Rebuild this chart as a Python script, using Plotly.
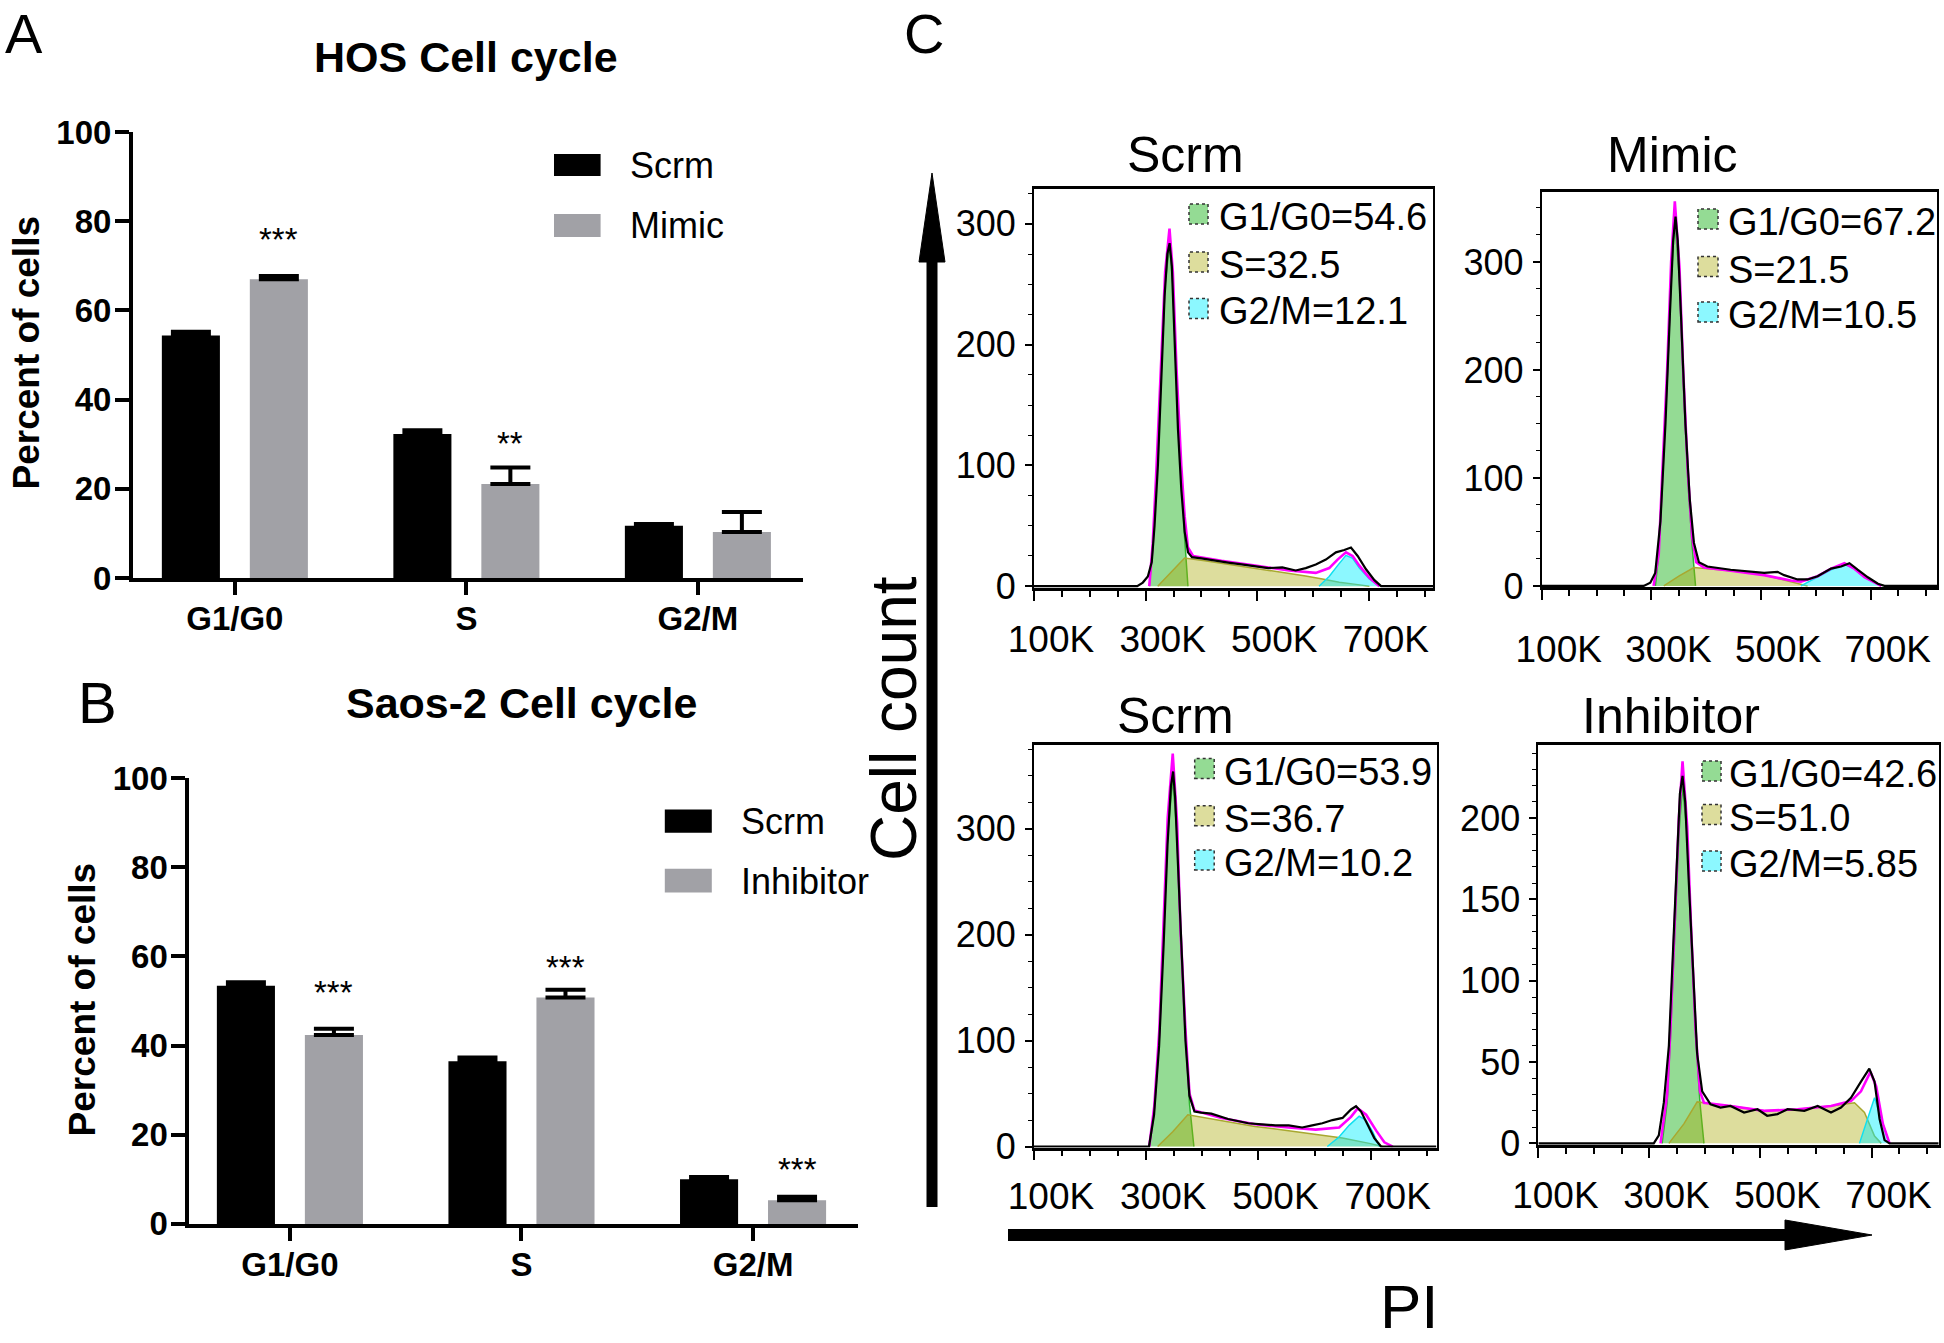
import plotly.graph_objects as go

W, H = 1944, 1343
FONT = "Liberation Sans, Arial, sans-serif"


def px(x):
    return x / W


def py(y):
    return 1 - y / H


# ---------------- data: bar charts ----------------
cats = ["G1/G0", "S", "G2/M"]

hos_scrm = [54.4, 32.3, 11.7]
hos_scrm_err = [0.8, 0.8, 0.4]
hos_mimic = [67.0, 21.1, 10.3]
hos_mimic_err = [0.7, 3.7, 4.5]
hos_stars = ["***", "**", ""]
hos_star_y = [77.4, 31.7, 0]

saos_scrm = [53.4, 36.5, 10.0]
saos_scrm_err = [0.8, 0.8, 0.5]
saos_inh = [42.4, 50.8, 5.3]
saos_inh_err = [1.4, 1.7, 0.8]
saos_stars = ["***", "***", "***"]
saos_star_y = [53.5, 59.1, 13.8]

# ---------------- data: flow histograms (PI, in K) ----------------
c1_data_x = [100, 285, 295, 304, 311, 316, 322, 328, 334, 339, 343, 347, 352, 358, 364, 370, 376, 383, 400, 424,
             448, 472, 496, 520, 545, 569, 587, 605, 623, 641, 656, 668, 680, 695, 710, 722, 815]
c1_data_y = [0, 0, 3, 8, 20, 50, 100, 170, 240, 275, 284, 265, 210, 130, 80, 45, 28, 24, 23, 21,
             19.5, 18, 16.5, 15, 15.5, 13, 15, 18, 22, 28, 30, 32, 25, 14, 5, 0, 0]
c1_fit_x = [306.6, 312.7, 318.7, 327.7, 335, 342.8, 348.8, 355.4, 363.9, 369.9, 375.9, 385, 436, 496, 557, 605,
            629, 644, 659, 671, 683, 701, 719]
c1_fit_y = [0, 35, 90, 180, 260, 296, 260, 180, 100, 58, 32, 25, 21, 17, 13, 11, 15, 22, 28, 25, 17, 7, 0]
c1_g1_x = [306.6, 312.7, 318.7, 327.7, 335, 342.8, 348.8, 355.4, 363.9, 369.9, 375.9]
c1_g1_y = [0, 31, 85, 170, 250, 283, 250, 170, 87, 40, 0]
c1_s_x = [321.7, 345.8, 369.9, 406, 466, 526.5, 586.7, 616.9, 647, 677, 701]
c1_s_y = [0, 12, 23.3, 21, 17, 13, 8.5, 6, 3.3, 1.5, 0]
c1_g2_x = [610.8, 628.9, 644, 659, 671, 683, 701, 719]
c1_g2_y = [0, 8, 17, 25.5, 23, 15, 6, 0]
c1_labels = ["G1/G0=54.6", "S=32.5", "G2/M=12.1"]

c2_data_x = [100, 286, 298, 307, 316.5, 325.6, 333.6, 339.7, 344, 348, 354, 362, 370, 377.5, 386.6, 402, 444.5,
             481, 505.5, 530, 542, 566.5, 584.8, 603, 627.5, 646, 661, 676, 694.6, 713, 725, 821]
c2_data_y = [0, 0, 3, 12, 60, 150, 250, 320, 342, 320, 250, 150, 80, 40, 22, 18, 15,
             13, 12, 13, 10, 6, 6, 9, 16, 18, 21, 15, 8, 2, 0, 0]
c2_fit_x = [304, 313.4, 319.5, 328.7, 336, 342.7, 351.2, 357.9, 366.5, 374.4, 381.7, 395.8, 444.5, 505.5, 554,
            572.6, 603, 627.5, 651.9, 670, 688.5, 719]
c2_fit_y = [0, 30, 100, 200, 300, 356, 295, 200, 105, 45, 22, 17, 14, 10, 5, 4, 9, 16, 21, 16, 8, 0]
c2_g1_x = [307.3, 313.4, 319.5, 328.7, 336, 342.7, 351.2, 357.9, 366.5, 374.4, 380.5]
c2_g1_y = [0, 30, 97, 190, 283, 339, 283, 190, 97, 36, 0]
c2_s_x = [322.6, 350, 377.5, 444.5, 505.5, 554, 584.8]
c2_s_y = [0, 9, 17, 14, 10, 4, 0]
c2_g2_x = [572.6, 603, 627.5, 651.9, 670, 688.5, 719]
c2_g2_y = [0, 8, 15, 20, 16, 8, 0]
c2_labels = ["G1/G0=67.2", "S=21.5", "G2/M=10.5"]

c3_data_x = [100, 305, 314, 323, 331, 338, 344, 348, 351.5, 356, 362, 370, 377, 386, 398, 416, 446, 482, 506, 530,
             554, 578, 596, 614, 632, 650, 665, 674, 683, 695, 706.6, 718.6, 817]
c3_data_y = [0, 0, 30, 95, 190, 285, 340, 354, 330, 270, 190, 100, 48, 33, 32, 31, 26, 22, 21, 20,
             20, 18, 20, 22, 25, 27, 35, 38, 33, 20, 8, 0, 0]
c3_fit_x = [305.4, 314.4, 323.4, 331.1, 338.3, 347.3, 355.1, 361.1, 370, 377.2, 386, 434, 494, 554, 602, 644,
            665, 677, 692, 710, 724.5, 739.5]
c3_fit_y = [0, 38, 110, 210, 310, 371, 305, 205, 110, 50, 34, 27, 21, 18, 16, 18, 28, 36, 30, 15, 4, 0]
c3_g1_x = [305.4, 314.4, 323.4, 331.1, 338.3, 347.3, 355.1, 361.1, 370, 377.2, 385]
c3_g1_y = [0, 35, 103, 198, 294, 347, 294, 198, 103, 40, 0]
c3_s_x = [320.4, 347.3, 374.2, 434, 494, 553.9, 613.8, 649.7, 697.6, 721.6]
c3_s_y = [0, 14, 30, 24.4, 19, 15, 11, 8, 3, 0]
c3_g2_x = [622.8, 643.7, 661.7, 679.6, 691.6, 703.6, 715.6]
c3_g2_y = [0, 9, 20, 28.6, 25, 14, 0]
c3_labels = ["G1/G0=53.9", "S=36.7", "G2/M=10.2"]

c4_data_x = [100, 307.8, 316.9, 325.9, 335, 342.8, 350, 354.8, 359.6, 364.4, 371, 379, 386, 395, 410, 428, 446,
             470.5, 494.6, 512, 530.7, 548.8, 579, 603, 627, 645, 663, 681, 696, 705.4, 714.5, 723.5, 732.5, 821]
c4_data_y = [0, 0, 5, 25, 60, 120, 180, 215, 226, 210, 160, 100, 55, 32, 24, 22, 23,
             19, 21, 17, 18, 21, 20, 23, 19, 22, 28, 38, 46, 38, 15, 2, 0, 0]
c4_fit_x = [320, 331.9, 338, 345.8, 353, 359.6, 368, 375.3, 383.1, 391, 398.2, 446.4, 506.6, 566.9, 627, 663,
            681, 698, 708.4, 720.5, 732.5]
c4_fit_y = [0, 30, 72, 135, 200, 235, 195, 130, 70, 32, 25, 23, 20, 21, 23, 26, 32, 44, 35, 12, 0]
c4_g1_x = [322.9, 331.9, 338, 345.8, 353, 359.6, 368, 375.3, 383.1, 391, 398.2]
c4_g1_y = [0, 25, 66, 128, 190, 220, 190, 128, 66, 25, 0]
c4_s_x = [335, 362, 386, 446.4, 506.6, 566.9, 627, 669.3, 687.3, 705.4, 717.5]
c4_s_y = [0, 12, 25.5, 23, 20, 21, 23, 25, 19, 4.5, 0]
c4_g2_x = [678.3, 690.4, 705.4, 717.5, 732.5]
c4_g2_y = [0, 12, 28, 15, 0]
c4_labels = ["G1/G0=42.6", "S=51.0", "G2/M=5.85"]

pi_ticks = [100, 300, 500, 700]
pi_ticktext = ["100K", "300K", "500K", "700K"]

# ---------------- figure ----------------
fig = go.Figure()
GRAY = "#a1a1a6"
GREEN_F = "rgba(0,170,0,0.42)"
YELLOW_F = "rgba(170,170,10,0.40)"
CYAN_F = "rgba(0,240,255,0.45)"

err_common = dict(type="data", symmetric=False, color="black", thickness=4, width=20)


def add_bars(xa, ya, v1, e1, v2, e2, n2):
    fig.add_trace(go.Bar(x=cats, y=v1, name="Scrm", marker=dict(color="black", line=dict(width=0)),
                         error_y=dict(array=e1, arrayminus=[0] * len(e1), **err_common),
                         xaxis=xa, yaxis=ya, showlegend=False))
    fig.add_trace(go.Bar(x=cats, y=v2, name=n2, marker=dict(color=GRAY, line=dict(width=0)),
                         error_y=dict(array=e2, arrayminus=[0] * len(e2), **err_common),
                         xaxis=xa, yaxis=ya, showlegend=False))


add_bars("x", "y", hos_scrm, hos_scrm_err, hos_mimic, hos_mimic_err, "Mimic")
add_bars("x2", "y2", saos_scrm, saos_scrm_err, saos_inh, saos_inh_err, "Inhibitor")

panels = [
    (c1_data_x, c1_data_y, c1_fit_x, c1_fit_y, c1_g1_x, c1_g1_y, c1_s_x, c1_s_y, c1_g2_x, c1_g2_y),
    (c2_data_x, c2_data_y, c2_fit_x, c2_fit_y, c2_g1_x, c2_g1_y, c2_s_x, c2_s_y, c2_g2_x, c2_g2_y),
    (c3_data_x, c3_data_y, c3_fit_x, c3_fit_y, c3_g1_x, c3_g1_y, c3_s_x, c3_s_y, c3_g2_x, c3_g2_y),
    (c4_data_x, c4_data_y, c4_fit_x, c4_fit_y, c4_g1_x, c4_g1_y, c4_s_x, c4_s_y, c4_g2_x, c4_g2_y),
]
for i, (dx, dy, fx, fy, g1x, g1y, sx, sy, g2x, g2y) in enumerate(panels):
    xa, ya = "x%d" % (i + 3), "y%d" % (i + 3)
    fig.add_trace(go.Scatter(x=g1x, y=g1y, mode="lines", fill="tozeroy", fillcolor=GREEN_F,
                             line=dict(color="#2fb52f", width=1.5), xaxis=xa, yaxis=ya, showlegend=False))
    fig.add_trace(go.Scatter(x=sx, y=sy, mode="lines", fill="tozeroy", fillcolor=YELLOW_F,
                             line=dict(color="#a8a830", width=1.5), xaxis=xa, yaxis=ya, showlegend=False))
    fig.add_trace(go.Scatter(x=g2x, y=g2y, mode="lines", fill="tozeroy", fillcolor=CYAN_F,
                             line=dict(color="#10e0f0", width=1.5), xaxis=xa, yaxis=ya, showlegend=False))
    fig.add_trace(go.Scatter(x=fx, y=fy, mode="lines", line=dict(color="#ff00ff", width=2.6),
                             xaxis=xa, yaxis=ya, showlegend=False))
    fig.add_trace(go.Scatter(x=dx, y=dy, mode="lines", line=dict(color="black", width=2.2),
                             xaxis=xa, yaxis=ya, showlegend=False))

# ---------------- axes ----------------
bar_x = dict(type="category", showline=True, linewidth=4, linecolor="black", ticks="outside", ticklen=13,
             tickwidth=4, tickcolor="black", showgrid=False, zeroline=False, automargin=False,
             tickfont=dict(family=FONT, size=33, color="black", weight="bold"), ticklabelstandoff=-5)
bar_y = dict(range=[0, 100], tickvals=[0, 20, 40, 60, 80, 100], showline=True, linewidth=4, linecolor="black",
             ticks="outside", ticklen=14, tickwidth=4, tickcolor="black", showgrid=False, zeroline=False,
             automargin=False, tickfont=dict(family=FONT, size=33, color="black", weight="bold"),
             ticklabelstandoff=-3)

layout = dict(
    template="none",
    width=W, height=H, margin=dict(l=0, r=0, t=0, b=0, pad=0), paper_bgcolor="white", plot_bgcolor="white",
    barmode="group", bargap=0.24, bargroupgap=0.34, showlegend=False,
    xaxis=dict(domain=[px(133), px(803)], range=[-0.44, 2.454], anchor="y", **bar_x),
    yaxis=dict(domain=[py(578), py(132)], anchor="x", **bar_y),
    xaxis2=dict(domain=[px(189.4), px(858.2)], range=[-0.434, 2.454], anchor="y2", **bar_x),
    yaxis2=dict(domain=[py(1223.9), py(778.1)], anchor="x2", **bar_y),
)

c_boxes = [  # (left, right, top, bottom) in px, x range, y range, y ticks, minor dtick, label standoff
    ((1034, 1433, 189.4, 588), [100, 815], [-1.5, 328.5], [0, 100, 200, 300], 25, 7),
    ((1541.7, 1937, 191.7, 587), [100, 820.7], [-1, 365], [0, 100, 200, 300], 25, 18),
    ((1034, 1436.7, 745, 1147.6), [100, 817.8], [-1, 379], [0, 100, 200, 300], 25, 4),
    ((1538.4, 1938.7, 745, 1145), [100, 821], [-1, 245], [0, 50, 100, 150, 200], 10, 6),
]
for i, ((l, r, t, b), xr, yr, yt, ymin, stand) in enumerate(c_boxes):
    n = i + 3
    layout["xaxis%d" % n] = dict(
        domain=[px(l), px(r)], range=xr, anchor="y%d" % n, tickvals=pi_ticks, ticktext=pi_ticktext,
        showline=True, mirror=True, linewidth=2.5, linecolor="black", ticks="outside", ticklen=10, tickwidth=1.5,
        tickcolor="black", minor=dict(tickmode="linear", tick0=0, dtick=50, ticks="outside", ticklen=6,
                                      tickwidth=1.5, tickcolor="black", showgrid=False),
        showgrid=False, zeroline=False, automargin=False, tickfont=dict(family=FONT, size=37, color="black"),
        ticklabelshift=17, ticklabelstandoff=stand)
    layout["yaxis%d" % n] = dict(
        domain=[py(b), py(t)], range=yr, anchor="x%d" % n, tickvals=yt, showline=True, mirror=True,
        linewidth=2, linecolor="black", ticks="outside", ticklen=7, tickwidth=1.5, tickcolor="black",
        minor=dict(tickmode="linear", tick0=0, dtick=ymin, ticks="outside", ticklen=4, tickwidth=1.2,
                   tickcolor="black", showgrid=False),
        showgrid=False, zeroline=False, automargin=False, tickfont=dict(family=FONT, size=36, color="black"),
        ticklabelstandoff=2)

fig.update_layout(**layout)

# ---------------- annotations ----------------
ann = []


def text(x, y, s, size, bold=False, xanchor="center", yanchor="middle", angle=0):
    ann.append(dict(x=px(x), y=py(y), xref="paper", yref="paper", text=s, showarrow=False,
                    xanchor=xanchor, yanchor=yanchor, textangle=angle,
                    font=dict(family=FONT, size=size, color="black", weight="bold" if bold else "normal")))


text(24, 0, "A", 56, yanchor="top")
text(97.5, 702, "B", 58)
text(924, 0, "C", 56, yanchor="top")
text(466, 57, "HOS Cell cycle", 43, bold=True)
text(521.5, 703, "Saos-2 Cell cycle", 43, bold=True)
text(25.5, 353, "Percent of cells", 37, bold=True, angle=-90)
text(82.4, 999, "Percent of cells", 37, bold=True, angle=-90)
text(628, 166, "Scrm", 36, xanchor="left")
text(628, 226, "Mimic", 36, xanchor="left")
text(739.4, 821, "Scrm", 36, xanchor="left")
text(739.4, 881, "Inhibitor", 36, xanchor="left")
text(894, 719, "Cell count", 64, angle=-90)
text(1409, H, "PI", 62, yanchor="bottom")
text(1185, 155, "Scrm", 50)
text(1672, 155, "Mimic", 50)
text(1175, 716, "Scrm", 50)
text(1671, 716, "Inhibitor", 50)

for i, s in enumerate(hos_stars):
    if s:
        ann.append(dict(x=i, y=hos_star_y[i], xref="x", yref="y", text=s, showarrow=False, xshift=44, yshift=-7,
                        font=dict(family=FONT, size=33, color="black")))
for i, s in enumerate(saos_stars):
    if s:
        ann.append(dict(x=i, y=saos_star_y[i], xref="x2", yref="y2", text=s, showarrow=False, xshift=44,
                        yshift=-7, font=dict(family=FONT, size=33, color="black")))

shapes = []


def rect(x0, y0, x1, y1, fill, line_color=None, dash="solid", lw=0):
    shapes.append(dict(type="rect", xref="paper", yref="paper", x0=px(x0), x1=px(x1), y0=py(y1), y1=py(y0),
                       fillcolor=fill, line=dict(color=line_color or fill, width=lw, dash=dash), layer="above"))


# bar legends
rect(554, 154, 600.6, 176, "black")
rect(554, 214, 600.6, 237, GRAY)
rect(664.8, 809.5, 711.8, 832.8, "black")
rect(664.8, 868.7, 711.8, 892.5, GRAY)

# histogram legends
c_leg = [
    (1189, 1208, 1216.6, [214, 262, 308.5], c1_labels),
    (1698, 1718, 1725.7, [219, 266.5, 312], c2_labels),
    (1194.7, 1214.2, 1221.6, [768.6, 815.7, 860], c3_labels),
    (1702, 1721, 1727.3, [771, 814.5, 861], c4_labels),
]
sw_fill = ["rgb(148,219,148)", "rgb(221,221,157)", "rgb(140,248,255)"]
for x0, x1, tx, rows, labels in c_leg:
    for k, yc in enumerate(rows):
        rect(x0, yc - 10, x1, yc + 10, sw_fill[k], line_color="#333333", dash="dot", lw=1.5)
        text(tx, yc + 3, labels[k], 38, xanchor="left")

# big axis arrows
shapes.append(dict(type="line", xref="paper", yref="paper", x0=px(932), x1=px(932), y0=py(1207), y1=py(250),
                   line=dict(color="black", width=11)))
shapes.append(dict(type="path", xref="paper", yref="paper",
                   path="M %f %f L %f %f L %f %f Z" % (px(932), py(173), px(919), py(262), px(945), py(262)),
                   fillcolor="black", line=dict(color="black", width=1)))
shapes.append(dict(type="line", xref="paper", yref="paper", x0=px(1008), x1=px(1795), y0=py(1235), y1=py(1235),
                   line=dict(color="black", width=12)))
shapes.append(dict(type="path", xref="paper", yref="paper",
                   path="M %f %f L %f %f L %f %f Z" % (px(1872), py(1235), px(1785), py(1220), px(1785), py(1250)),
                   fillcolor="black", line=dict(color="black", width=1)))

fig.update_layout(annotations=ann, shapes=shapes)

fig.write_html("out.html", config={"displayModeBar": False},
               post_script="document.body.style.margin='0';document.body.style.overflow='hidden';")
